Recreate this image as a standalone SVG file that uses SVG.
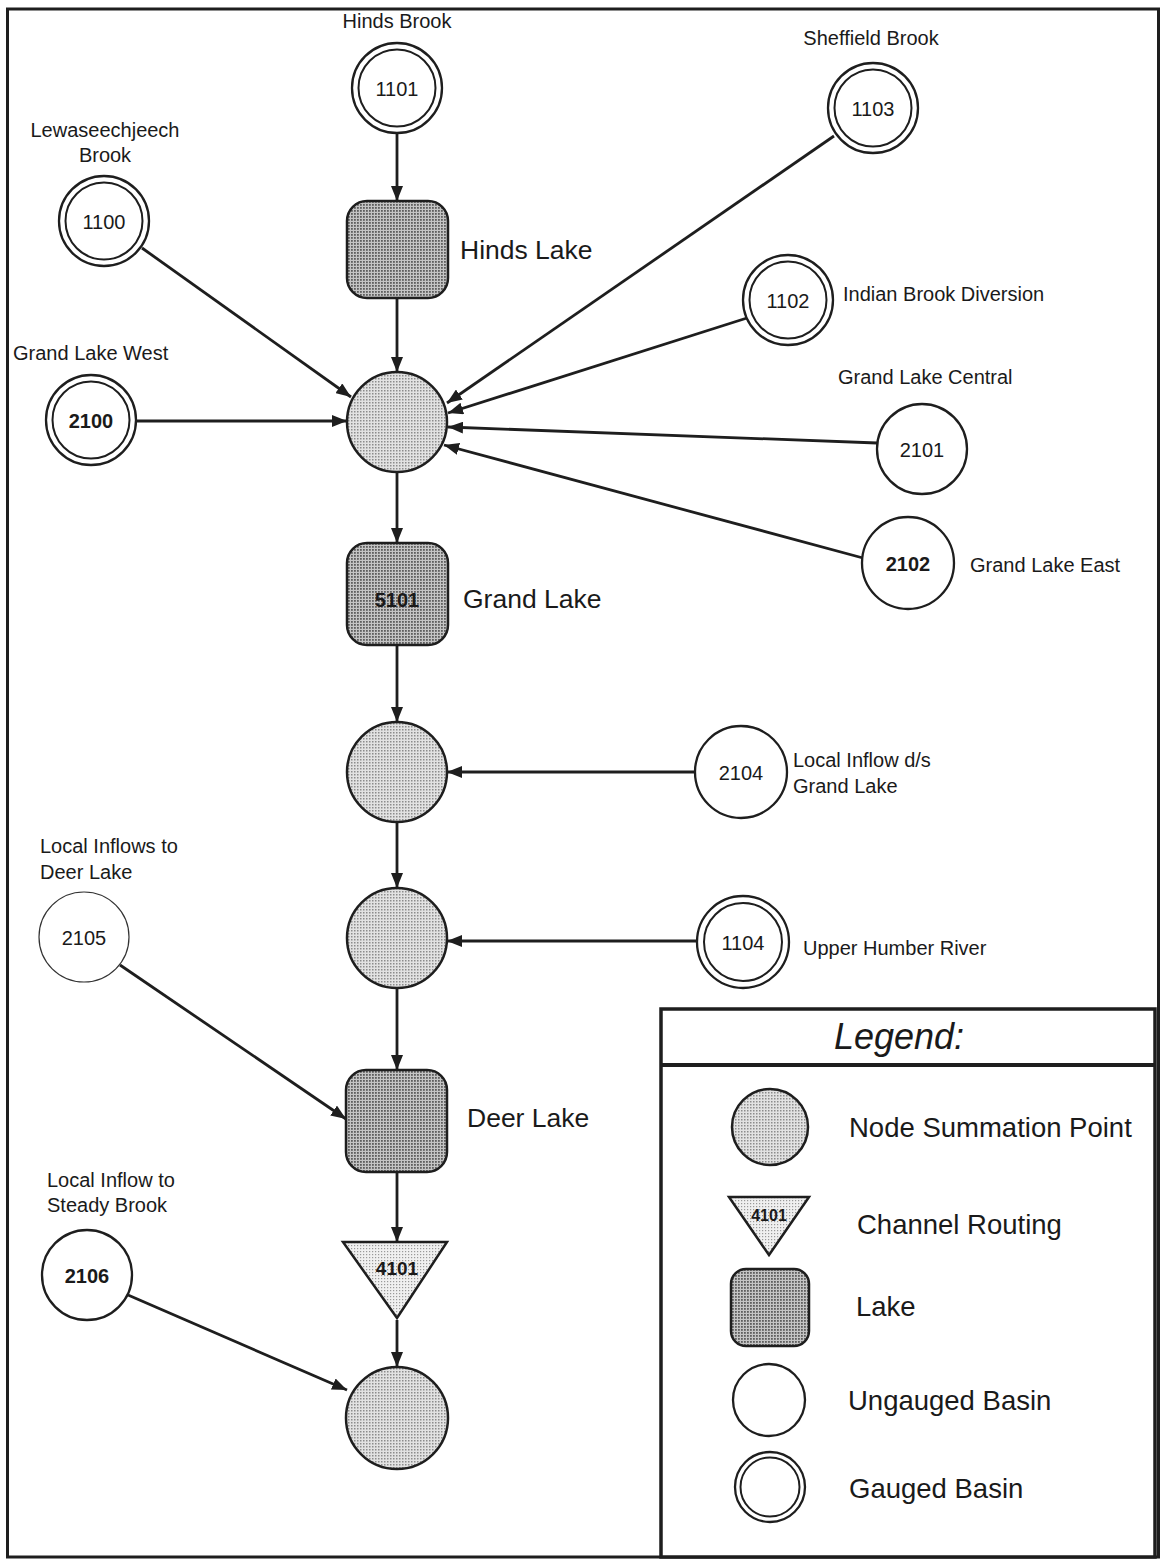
<svg xmlns="http://www.w3.org/2000/svg" width="1161" height="1560" viewBox="0 0 1161 1560">
  <defs>
    <!-- halftone fills -->
    <pattern id="fillNode" width="3" height="3" patternUnits="userSpaceOnUse">
      <rect width="3" height="3" fill="#e2e2e2"/>
      <rect width="1.5" height="1.5" fill="#8c8c8c"/>
    </pattern>
    <pattern id="fillLake" width="3" height="3" patternUnits="userSpaceOnUse">
      <rect width="3" height="3" fill="#c4c4c4"/>
      <rect width="1.8" height="1.8" fill="#5e5e5e"/>
    </pattern>
    <pattern id="fillRoute" width="3" height="3" patternUnits="userSpaceOnUse">
      <rect width="3" height="3" fill="#f0f0f0"/>
      <rect width="1.2" height="1.2" fill="#999"/>
    </pattern>
    <marker id="arrow" viewBox="0 0 15 12" refX="15" refY="6" markerWidth="15" markerHeight="12" markerUnits="userSpaceOnUse" orient="auto">
      <path d="M0,0 L15,6 L0,12 Z" fill="#1e1e1e"/>
    </marker>
  </defs>
  <style>
    text { font-family: "Liberation Sans", Arial, sans-serif; fill: #1a1a1a; }
    .lbl { font-size: 20px; }
    .id { font-size: 20px; text-anchor: middle; }
    .idb { font-size: 20px; text-anchor: middle; font-weight: bold; }
    .lake-lbl { font-size: 26.5px; }
    .leg { font-size: 27.5px; }
    .sum { fill: url(#fillNode); stroke: #1e1e1e; stroke-width: 2.5; }
    .lake { fill: url(#fillLake); stroke: #1e1e1e; stroke-width: 2.5; }
    .route { fill: url(#fillRoute); stroke: #1e1e1e; stroke-width: 2.5; }
    .basin { fill: #fff; stroke: #1e1e1e; stroke-width: 2.3; }
    .basin-thin { fill: #fff; stroke: #333; stroke-width: 1.2; }
    .inner { fill: none; stroke: #1e1e1e; stroke-width: 2; }
    .edge { stroke: #1e1e1e; stroke-width: 2.8; fill: none; marker-end: url(#arrow); }
    .frame { fill: none; stroke: #1e1e1e; stroke-width: 3; }
  </style>

  <rect width="1161" height="1560" fill="#fff"/>
  <rect class="frame" x="7.5" y="9" width="1151" height="1548"/>

  <!-- connectors -->
  <g id="connectors">
    <line class="edge" x1="397" y1="134" x2="397" y2="201"/>
    <line class="edge" x1="397" y1="298" x2="397" y2="372"/>
    <line class="edge" x1="397" y1="472" x2="397" y2="543"/>
    <line class="edge" x1="397" y1="645" x2="397" y2="722"/>
    <line class="edge" x1="397" y1="822" x2="397" y2="888"/>
    <line class="edge" x1="397" y1="988" x2="397" y2="1070"/>
    <line class="edge" x1="397" y1="1172" x2="397" y2="1242"/>
    <line class="edge" x1="397" y1="1320" x2="397" y2="1367"/>
    <line class="edge" x1="142" y1="248" x2="351" y2="397"/>
    <line class="edge" x1="137" y1="421" x2="347" y2="421"/>
    <line class="edge" x1="834" y1="136" x2="447" y2="403"/>
    <line class="edge" x1="747" y1="318" x2="448" y2="413"/>
    <line class="edge" x1="877" y1="443" x2="448" y2="427"/>
    <line class="edge" x1="863" y1="558" x2="444" y2="445"/>
    <line class="edge" x1="695" y1="772" x2="447" y2="772"/>
    <line class="edge" x1="697" y1="941" x2="447" y2="941"/>
    <line class="edge" x1="120" y1="965" x2="346" y2="1119"/>
    <line class="edge" x1="128" y1="1295" x2="347" y2="1390"/>
  </g>

  <!-- central chain -->
  <g id="n1101">
    <circle class="basin" cx="397" cy="88" r="45"/>
    <circle class="inner" cx="397" cy="88" r="38.5"/>
    <text class="id" x="397" y="96">1101</text>
    <text class="lbl" x="397" y="28" text-anchor="middle">Hinds Brook</text>
  </g>
  <g id="hinds-lake">
    <rect class="lake" x="347" y="201" width="101" height="97" rx="20"/>
    <text class="lake-lbl" x="460" y="259">Hinds Lake</text>
  </g>
  <g id="sum1">
    <circle class="sum" cx="397" cy="422" r="50"/>
  </g>
  <g id="grand-lake">
    <rect class="lake" x="347" y="543" width="101" height="102" rx="20"/>
    <text x="397" y="607" text-anchor="middle" font-size="20" font-weight="bold" fill="#333">5101</text>
    <text class="lake-lbl" x="463" y="608">Grand Lake</text>
  </g>
  <g id="sum2">
    <circle class="sum" cx="397" cy="772" r="50"/>
  </g>
  <g id="sum3">
    <circle class="sum" cx="397" cy="938" r="50"/>
  </g>
  <g id="deer-lake">
    <rect class="lake" x="346" y="1070" width="101" height="102" rx="20"/>
    <text class="lake-lbl" x="467" y="1127">Deer Lake</text>
  </g>
  <g id="route4101">
    <polygon class="route" points="343,1242 447,1242 397,1318"/>
    <text x="397" y="1275" text-anchor="middle" font-size="19" font-weight="bold" fill="#333">4101</text>
  </g>
  <g id="sum4">
    <circle class="sum" cx="397" cy="1418" r="51"/>
  </g>

  <!-- left-hand basins -->
  <g id="n1100">
    <circle class="basin" cx="104" cy="221" r="45"/>
    <circle class="inner" cx="104" cy="221" r="38.5"/>
    <text class="id" x="104" y="229">1100</text>
    <text class="lbl" x="105" y="137" text-anchor="middle">Lewaseechjeech</text>
    <text class="lbl" x="105" y="162" text-anchor="middle">Brook</text>
  </g>
  <g id="n2100">
    <circle class="basin" cx="91" cy="420" r="45"/>
    <circle class="inner" cx="91" cy="420" r="38.5"/>
    <text class="idb" x="91" y="428">2100</text>
    <text class="lbl" x="13" y="360">Grand Lake West</text>
  </g>
  <g id="n2105">
    <circle class="basin-thin" cx="84" cy="937" r="45"/>
    <text class="id" x="84" y="945">2105</text>
    <text class="lbl" x="40" y="853">Local Inflows to</text>
    <text class="lbl" x="40" y="879">Deer Lake</text>
  </g>
  <g id="n2106">
    <circle class="basin" cx="87" cy="1275" r="45"/>
    <text class="idb" x="87" y="1283">2106</text>
    <text class="lbl" x="47" y="1187">Local Inflow to</text>
    <text class="lbl" x="47" y="1212">Steady Brook</text>
  </g>

  <!-- right-hand basins -->
  <g id="n1103">
    <circle class="basin" cx="873" cy="108" r="45"/>
    <circle class="inner" cx="873" cy="108" r="38.5"/>
    <text class="id" x="873" y="116">1103</text>
    <text class="lbl" x="871" y="45" text-anchor="middle">Sheffield Brook</text>
  </g>
  <g id="n1102">
    <circle class="basin" cx="788" cy="300" r="45"/>
    <circle class="inner" cx="788" cy="300" r="38.5"/>
    <text class="id" x="788" y="308">1102</text>
    <text class="lbl" x="843" y="301">Indian Brook Diversion</text>
  </g>
  <g id="n2101">
    <circle class="basin" cx="922" cy="449" r="45"/>
    <text class="id" x="922" y="457">2101</text>
    <text class="lbl" x="838" y="384">Grand Lake Central</text>
  </g>
  <g id="n2102">
    <circle class="basin" cx="908" cy="563" r="46"/>
    <text class="idb" x="908" y="571">2102</text>
    <text class="lbl" x="970" y="572">Grand Lake East</text>
  </g>
  <g id="n2104">
    <circle class="basin" cx="741" cy="772" r="46"/>
    <text class="id" x="741" y="780">2104</text>
    <text class="lbl" x="793" y="767">Local Inflow d/s</text>
    <text class="lbl" x="793" y="793">Grand Lake</text>
  </g>
  <g id="n1104">
    <circle class="basin" cx="743" cy="942" r="46"/>
    <circle class="inner" cx="743" cy="942" r="39"/>
    <text class="id" x="743" y="950">1104</text>
    <text class="lbl" x="803" y="955">Upper Humber River</text>
  </g>

  <!-- legend -->
  <g id="legend">
    <rect x="661" y="1009" width="494" height="548" fill="#fff" stroke="#1e1e1e" stroke-width="3.5"/>
    <line x1="661" y1="1065" x2="1155" y2="1065" stroke="#1e1e1e" stroke-width="4"/>
    <text x="899" y="1049" text-anchor="middle" font-size="36" font-style="italic">Legend:</text>

    <circle class="sum" cx="770" cy="1127" r="38" stroke-width="1.5"/>
    <text class="leg" x="849" y="1137">Node Summation Point</text>

    <polygon class="route" points="729,1197 809,1197 769,1255" stroke-width="2.5"/>
    <text x="769" y="1221" text-anchor="middle" font-size="16" font-weight="bold" fill="#1a1a1a">4101</text>
    <text class="leg" x="857" y="1234">Channel Routing</text>

    <rect class="lake" x="731" y="1269" width="78" height="77" rx="15" stroke-width="3"/>
    <text class="leg" x="856" y="1316">Lake</text>

    <circle class="basin" cx="769" cy="1400" r="36" stroke-width="2.5"/>
    <text class="leg" x="848" y="1410">Ungauged Basin</text>

    <circle class="basin" cx="770" cy="1487" r="35" stroke-width="2"/>
    <circle class="inner" cx="770" cy="1487" r="29.5" stroke-width="2"/>
    <text class="leg" x="849" y="1498">Gauged Basin</text>
  </g>
</svg>
